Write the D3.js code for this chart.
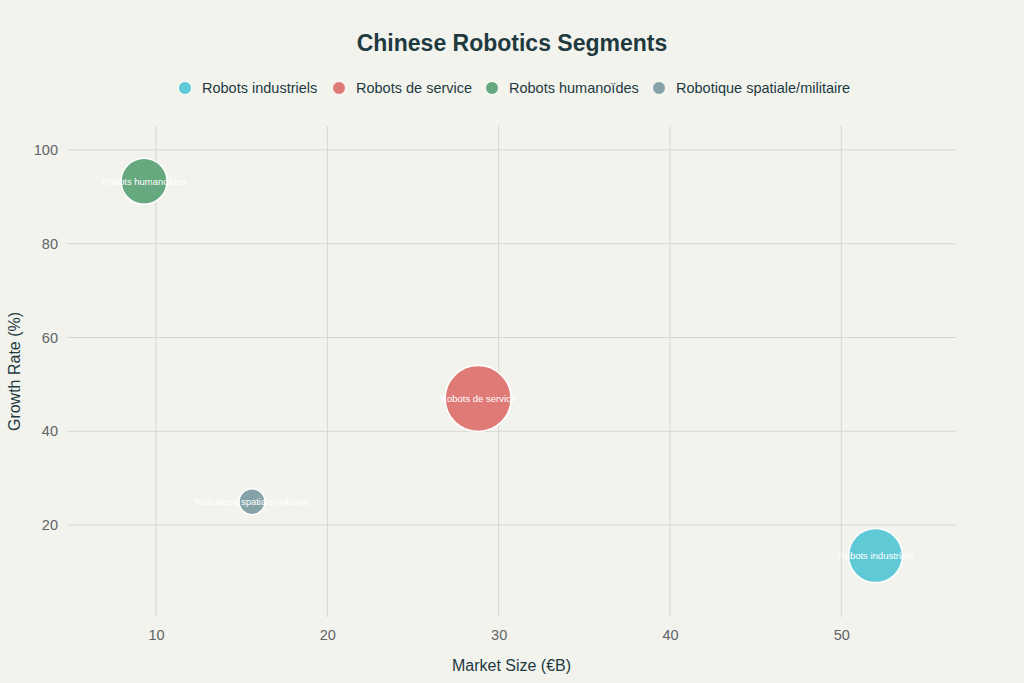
<!DOCTYPE html>
<html>
<head>
<meta charset="utf-8">
<script src="https://cdn.jsdelivr.net/npm/d3@7"></script>
<style>
  body { margin: 0; background: #f3f3ee; }
  svg { display: block; font-family: "Liberation Sans", Arial, sans-serif; }
</style>
</head>
<body>
<div class="container"></div>
<script>
// chart data
var segments = ["Robots industriels", "Robots de service", "Robots humanoïdes", "Robotique spatiale/militaire"];
var marketSize = [52.0, 28.8, 9.3, 15.6];
var growthRate = [13.5, 47.0, 93.3, 25.0];
var bubbleSize = [27, 33, 23, 13];
var colors = ["#5fc9d6", "#e07a77", "#66a97f", "#86a3a9"];
var xTicks = [10, 20, 30, 40, 50];
var yTicks = [20, 40, 60, 80, 100];

var W = 1024, H = 683;
var plotL = 67, plotR = 956, plotT = 126, plotB = 617;

var svg = d3.select(".container")
	.append("svg")
	.attr("width", W)
	.attr("height", H);

svg.append("rect").attr("width", W).attr("height", H).attr("fill", "#f3f3ee");

var x = d3.scaleLinear().domain([4.8, 56.7]).range([plotL, plotR]);
var y = d3.scaleLinear().domain([0.4, 105.1]).range([plotB, plotT]);
var r = d3.scaleLinear().domain([0, 33]).range([0, 33]);

// gridlines
svg.append("g").selectAll("line").data(xTicks).enter().append("line")
	.attr("x1", function(d) { return x(d); })
	.attr("x2", function(d) { return x(d); })
	.attr("y1", plotT).attr("y2", plotB)
	.attr("stroke", "#d6d5cf").attr("stroke-width", 1);

svg.append("g").selectAll("line").data(yTicks).enter().append("line")
	.attr("x1", plotL).attr("x2", plotR)
	.attr("y1", function(d) { return y(d); })
	.attr("y2", function(d) { return y(d); })
	.attr("stroke", "#d6d5cf").attr("stroke-width", 1);

// axes (labels only)
var xAxis = svg.append("g")
	.attr("transform", "translate(0," + (plotB + 5) + ")")
	.call(d3.axisBottom(x).tickValues(xTicks).tickSize(0).tickPadding(8));
var yAxis = svg.append("g")
	.attr("transform", "translate(" + (plotL - 5) + ",0)")
	.call(d3.axisLeft(y).tickValues(yTicks).tickSize(0).tickPadding(4));

[xAxis, yAxis].forEach(function(a) {
	a.select(".domain").remove();
	a.selectAll("text")
		.attr("fill", "#5f6466")
		.style("font-size", "14.5px")
		.style("font-family", "Liberation Sans, Arial, sans-serif");
});

// bubbles
var idx = d3.range(segments.length);
var g = svg.append("g");
g.selectAll("circle").data(idx).enter().append("circle")
	.attr("cx", function(i) { return x(marketSize[i]); })
	.attr("cy", function(i) { return y(growthRate[i]); })
	.attr("r", function(i) { return r(bubbleSize[i]); })
	.attr("fill", function(i) { return colors[i]; })
	.attr("stroke", "#ffffff")
	.attr("stroke-width", 1.5);

g.selectAll("text").data(idx).enter().append("text")
	.attr("x", function(i) { return x(marketSize[i]); })
	.attr("y", function(i) { return y(growthRate[i]) + 3.5; })
	.attr("text-anchor", "middle")
	.attr("fill", "#ffffff")
	.style("font-size", "9.5px")
	.text(function(i) { return segments[i]; });

// title
svg.append("text")
	.attr("x", W / 2).attr("y", 51)
	.attr("text-anchor", "middle")
	.attr("fill", "#1e3a3f")
	.style("font-size", "23px")
	.style("font-weight", "bold")
	.text("Chinese Robotics Segments");

// legend
var legendX = [185, 339, 492, 659];
var leg = svg.append("g").selectAll("g").data(idx).enter().append("g")
	.attr("transform", function(i) { return "translate(" + legendX[i] + ",88)"; });
leg.append("circle").attr("r", 6.5)
	.attr("fill", function(i) { return colors[i]; })
	.attr("stroke", "#ffffff").attr("stroke-width", 1);
leg.append("text").attr("x", 17).attr("y", 5)
	.attr("fill", "#1e3a3f")
	.style("font-size", "14.5px")
	.text(function(i) { return segments[i]; });

// axis titles
svg.append("text")
	.attr("x", (plotL + plotR) / 2).attr("y", 671)
	.attr("text-anchor", "middle")
	.attr("fill", "#1e3a3f")
	.style("font-size", "16px")
	.text("Market Size (€B)");

svg.append("text")
	.attr("transform", "translate(20," + ((plotT + plotB) / 2) + ") rotate(-90)")
	.attr("text-anchor", "middle")
	.attr("fill", "#1e3a3f")
	.style("font-size", "16px")
	.text("Growth Rate (%)");
</script>
</body>
</html>
